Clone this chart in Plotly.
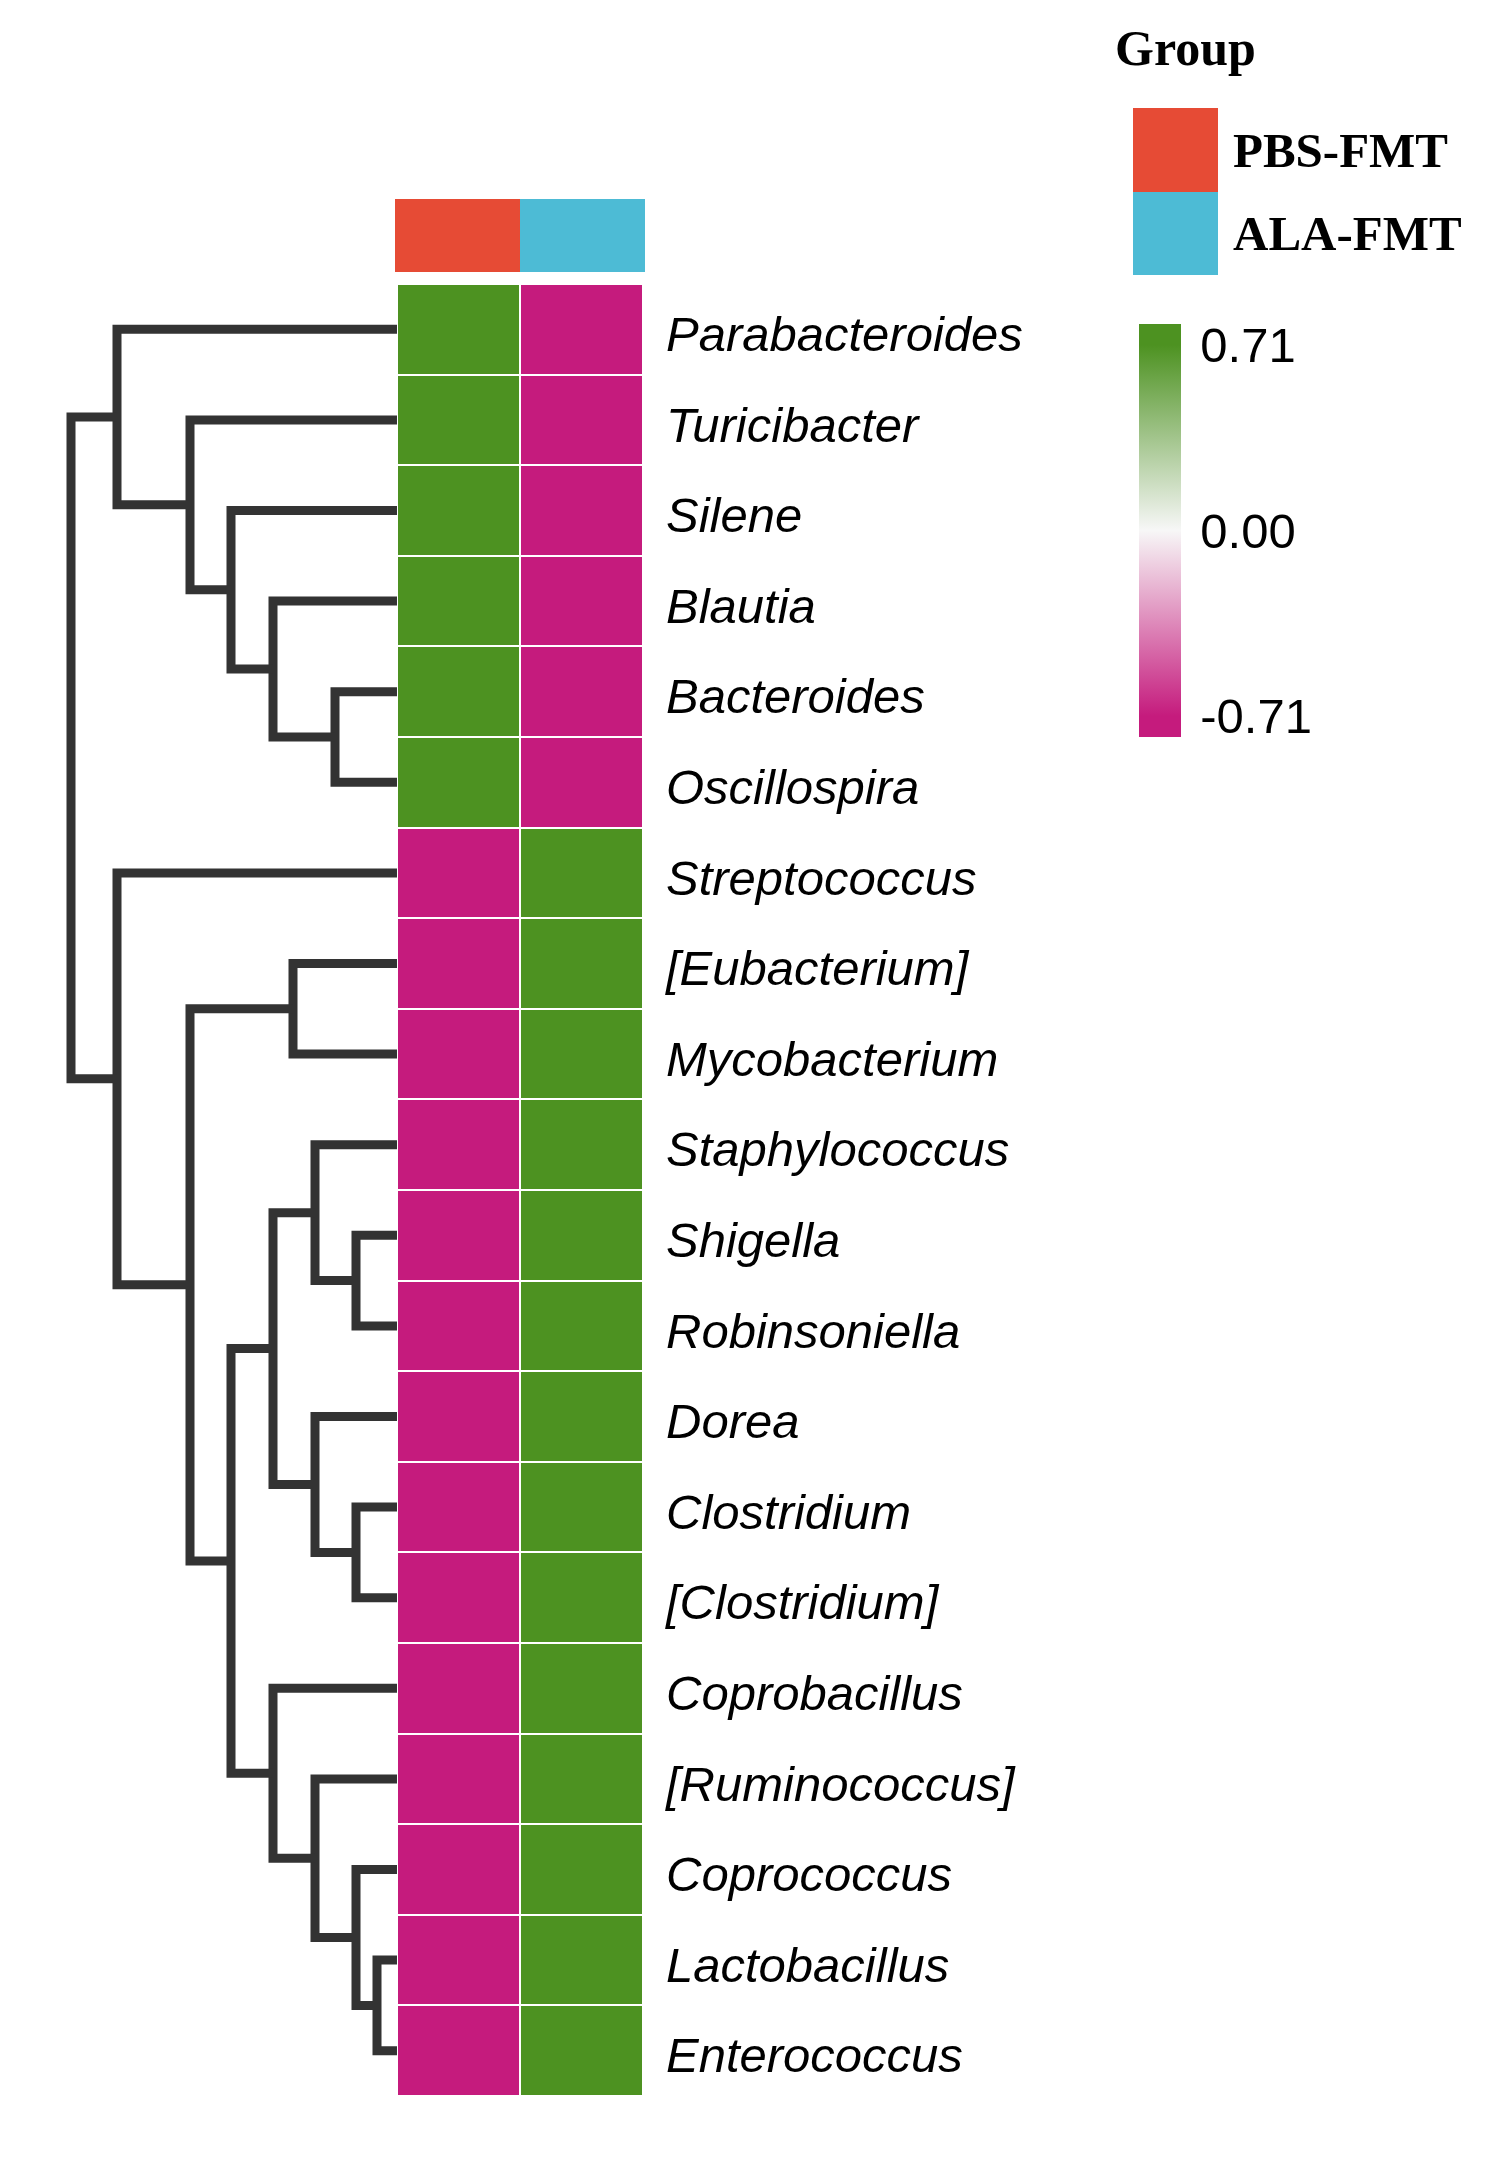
import plotly.graph_objects as go

W, H = 1500, 2166
OFF = 8  # page body margin of the browser

# ---------------- data ----------------
genera = ["Parabacteroides", "Turicibacter", "Silene", "Blautia", "Bacteroides", "Oscillospira",
          "Streptococcus", "[Eubacterium]", "Mycobacterium", "Staphylococcus", "Shigella",
          "Robinsoniella", "Dorea", "Clostridium", "[Clostridium]", "Coprobacillus",
          "[Ruminococcus]", "Coprococcus", "Lactobacillus", "Enterococcus"]
groups = ["PBS-FMT", "ALA-FMT"]
group_colors = ["#E64B35", "#4DBBD5"]

pbs_fmt = [0.71, 0.71, 0.71, 0.71, 0.71, 0.71,
           -0.71, -0.71, -0.71, -0.71, -0.71, -0.71, -0.71, -0.71, -0.71, -0.71, -0.71, -0.71, -0.71, -0.71]
ala_fmt = [-0.71, -0.71, -0.71, -0.71, -0.71, -0.71,
           0.71, 0.71, 0.71, 0.71, 0.71, 0.71, 0.71, 0.71, 0.71, 0.71, 0.71, 0.71, 0.71, 0.71]

# hierarchical clustering merges: (child_a, child_b, height); leaves are 0..19, new nodes 20, 21, ...
merges = [
    (4, 5, 0.62),     # 20
    (3, 20, 1.24),    # 21
    (2, 21, 1.66),    # 22
    (1, 22, 2.07),    # 23
    (0, 23, 2.80),    # 24
    (18, 19, 0.20),   # 25
    (17, 25, 0.41),   # 26
    (16, 26, 0.82),   # 27
    (15, 27, 1.24),   # 28
    (13, 14, 0.41),   # 29
    (12, 29, 0.82),   # 30
    (10, 11, 0.41),   # 31
    (9, 31, 0.82),    # 32
    (32, 30, 1.24),   # 33
    (33, 28, 1.66),   # 34
    (7, 8, 1.04),     # 35
    (35, 34, 2.07),   # 36
    (6, 36, 2.80),    # 37
    (24, 37, 3.26),   # 38
]

cbar_ticks = [-0.71, 0.0, 0.71]
cbar_text = ["-0.71", "0.00", "0.71"]

# ---------------- dendrogram geometry from the tree ----------------
n = len(genera)
node_y = {i: float(i) for i in range(n)}
node_h = {i: 0.0 for i in range(n)}
dx, dy = [], []
for k, (a, b, h) in enumerate(merges):
    nid = n + k
    node_y[nid] = (node_y[a] + node_y[b]) / 2
    node_h[nid] = h
    dx += [node_h[a], h, h, node_h[b], None]
    dy += [node_y[a], node_y[a], node_y[b], node_y[b], None]


def px(v):
    return (v - OFF) / W


def py(v):
    return 1 - (v - OFF) / H


fig = go.Figure()

fig.add_trace(go.Scatter(
    x=dx, y=dy, mode="lines", xaxis="x", yaxis="y",
    line=dict(color="#333333", width=9), hoverinfo="skip", showlegend=False,
    cliponaxis=False,
))

zmax = 0.79
lo = 0.5 - 0.71 / zmax / 2
hi = 0.5 + 0.71 / zmax / 2
colorscale = [[0, "#C51B7D"], [lo, "#C51B7D"], [0.5, "#F7F7F7"], [hi, "#4D9221"], [1, "#4D9221"]]

z = [[pbs_fmt[i], ala_fmt[i]] for i in range(n)]
fig.add_trace(go.Heatmap(
    z=z, x=[0, 1], y=list(range(n)), xaxis="x2", yaxis="y",
    colorscale=colorscale, zmin=-zmax, zmax=zmax, xgap=2, ygap=2,
    colorbar=dict(
        x=px(1139), xanchor="left", y=py(324), yanchor="top",
        thickness=42, thicknessmode="pixels", len=413, lenmode="pixels",
        xpad=0, ypad=0, outlinewidth=0,
        tickvals=cbar_ticks, ticktext=cbar_text, ticks="outside", ticklen=10,
        tickcolor="rgba(0,0,0,0)",
        tickfont=dict(family="Liberation Sans, Arial", size=49, color="black"),
    ),
    hoverinfo="skip",
))

# group annotation bar
fig.add_trace(go.Heatmap(
    z=[[0, 1]], x=[0, 1], y=[0], xaxis="x4", yaxis="y2",
    colorscale=[[0, group_colors[0]], [0.5, group_colors[0]], [0.5, group_colors[1]], [1, group_colors[1]]],
    zmin=0, zmax=1, showscale=False, hoverinfo="skip",
))

# group legend
fig.add_trace(go.Heatmap(
    z=[[0], [1]], x=[0], y=[0, 1], xaxis="x3", yaxis="y3",
    colorscale=[[0, group_colors[0]], [0.5, group_colors[0]], [0.5, group_colors[1]], [1, group_colors[1]]],
    zmin=0, zmax=1, showscale=False, hoverinfo="skip",
))

label_font = dict(family="Liberation Sans, Arial", size=49, color="black")
serif_font = dict(family="Liberation Serif, Times New Roman", size=49, color="black")
title_font = dict(family="Liberation Serif, Times New Roman", size=50, color="black")

fig.update_layout(
    width=W, height=H, margin=dict(l=0, r=0, t=0, b=0),
    paper_bgcolor="white", plot_bgcolor="white",
    xaxis=dict(domain=[px(45), px(397)], range=[3.52, 0], visible=False, anchor="y"),
    xaxis2=dict(domain=[px(397), px(643)], range=[-0.5, 1.5], visible=False, anchor="y"),
    xaxis3=dict(domain=[px(1133), px(1218)], range=[-0.5, 0.5], visible=False, anchor="y3"),
    xaxis4=dict(domain=[px(395), px(645)], range=[-0.5, 1.5], visible=False, anchor="y2"),
    yaxis=dict(domain=[py(2096), py(284)], range=[n - 0.5, -0.5], anchor="x2", side="right",
               tickvals=[i + 0.05 for i in range(n)], ticktext=[f"<i>{g}</i>" for g in genera],
               tickfont=label_font, showgrid=False, zeroline=False, showline=False,
               ticks="", ticklabelstandoff=22),
    yaxis2=dict(domain=[py(272), py(199)], range=[-0.5, 0.5], visible=False, anchor="x4"),
    yaxis3=dict(domain=[py(275), py(108)], range=[1.5, -0.5], anchor="x3", side="right",
                tickvals=[0, 1], ticktext=[f"<b>{g}</b>" for g in groups], tickfont=serif_font,
                showgrid=False, zeroline=False, showline=False, ticks="", ticklabelstandoff=14),
    annotations=[dict(text="<b>Group</b>", x=px(1113), y=py(48), xref="paper", yref="paper",
                      xanchor="left", yanchor="middle", showarrow=False, font=title_font)],
)

fig.write_html("out.html")
